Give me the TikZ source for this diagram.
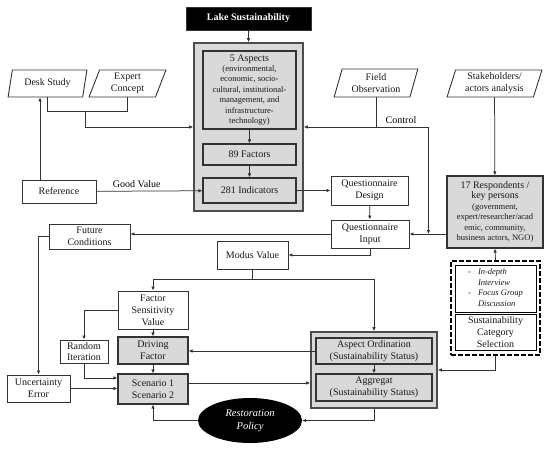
\documentclass[tikz,border=0pt]{standalone}
\usepackage{fontspec}
\setmainfont{Liberation Serif}
\usetikzlibrary{arrows.meta,shapes.geometric}

\begin{document}
\begin{tikzpicture}[x=1pt,y=-1pt,
    font=\fontsize{10}{11.8}\selectfont,
    size/.style 2 args={minimum width=#1,minimum height=#2},
    box/.style={draw=black!80,line width=0.9pt,fill=white,align=center,inner sep=0pt,text=black!90},
    grey/.style={box,fill=black!15,line width=1.1pt},
    data/.style={box,trapezium,trapezium left angle=73,trapezium right angle=107,trapezium stretches=true},
    small/.style={font=\fontsize{8.5}{10.4}\selectfont},
    arr/.style={draw=black!80,line width=0.75pt,-{Latex[length=4pt,width=3.5pt]}},
    line/.style={draw=black!80,line width=0.75pt}]
\useasboundingbox (0,0) rectangle (550,451);
% top part
\node[box,fill=black,text=white,font=\bfseries\fontsize{10}{12}\selectfont,size={125}{23}] (lake) at (248.5,18.5) {Lake Sustainability};
\node[grey,draw=black!70,line width=1.6pt,size={109}{168}] (cont) at (248.5,127) {};
\node[grey,size={93}{78},small] (aspects) at (249.5,90) {{\fontsize{10}{12}\selectfont 5 Aspects}\\(environmental,\\economic, socio-\\cultural, institutional-\\management, and\\infrastructure-\\technology)};
\node[grey,size={93}{21}] (factors) at (249.5,154.5) {89 Factors};
\node[grey,size={93}{25}] (indic) at (249.5,190.5) {281 Indicators};
\node[data,size={79}{27}] (desk) at (47.5,83.5) {Desk Study};
\node[data,size={77}{27}] (expert) at (127.5,83.5) {Expert\\Concept};
\node[data,size={84}{28}] (field) at (376,83) {Field\\Observation};
\node[data,size={95}{27}] (stake) at (494.5,83.5) {Stakeholders/\\actors analysis};
\node[box,size={74}{23}] (ref) at (59,191.5) {Reference};
\node[box,size={77}{29}] (qdesign) at (369.5,190.5) {Questionnaire\\Design};
\node[box,size={78}{28}] (qinput) at (370,234) {Questionnaire\\Input};
\node[grey,size={96}{72},small] (resp) at (495,212) {{\fontsize{10}{11}\selectfont 17 Respondents /}\\{\fontsize{10}{11}\selectfont key persons}\\(government,\\expert/researcher/acad\\emic, community,\\business actors, NGO)};
% bottom part
\node[box,size={81}{25}] (future) at (89.5,236.5) {Future\\Conditions};
\node[box,size={71}{28}] (modus) at (252.5,255) {Modus Value};
\node[box,size={70}{38}] (fsv) at (153,310) {Factor\\Sensitivity\\Value};
\node[grey,size={70}{27}] (driving) at (153,350.5) {Driving\\Factor};
\node[grey,size={70}{30}] (scen) at (153,389) {Scenario 1\\Scenario 2};
\node[box,size={48}{23}] (random) at (84,351.5) {Random\\Iteration};
\node[box,size={63}{27}] (uncert) at (38.5,388.5) {Uncertainty\\Error};
\node[grey,draw=black!70,line width=1.6pt,size={126}{76}] (ordcont) at (374,370) {};
\node[grey,size={116}{26}] (ord) at (374,351) {Aspect Ordination\\(Sustainability Status)};
\node[grey,size={116}{27}] (aggr) at (374,387.5) {Aggregat\\(Sustainability Status)};
\node[ellipse,fill=black,text=white,inner sep=0pt,size={104}{45},align=center,font=\itshape\fontsize{10.5}{12.5}\selectfont] (policy) at (250,420.5) {Restoration\\Policy};
\node[draw=black,line width=2.2pt,dash pattern=on 5pt off 2pt,size={89}{94}] (dashbox) at (495.5,308) {};
\node[box,draw=black,size={81}{47},align=left,small] (interview) at (495.5,288.5)
  {\begin{tabular}{@{}l@{\hspace{7pt}}l@{}}-&\textit{In-depth}\\&\textit{Interview}\\-&\textit{Focus Group}\\&\textit{Discussion}\end{tabular}};
\node[box,draw=black,size={81}{36}] (select) at (495.5,332) {Sustainability\\Category\\Selection};
% connectors
\coordinate (dj) at (85,111);
\coordinate (fj) at (375,127);
\coordinate (mj) at (252.5,279);
\draw[arr] (lake) -- (cont);
\draw[arr] (aspects) -- (factors);
\draw[arr] (factors) -- (indic);
\draw[line] (desk.south) -- ++(0,14) -| (expert.south);
\draw[arr] (dj) |- (cont.west |- 0,127);
\draw[arr] ([xshift=-19pt]ref.north) -- ([xshift=-19pt]ref.north |- desk.south);
\draw[arr] (ref) -- node[above,pos=0.38] (good) {Good Value} (indic);
\draw[arr] (indic) -- (qdesign);
\draw[arr] (qdesign) -- (qinput);
\draw[arr] (field.south) |- (cont.east |- fj);
\draw[arr] (fj) -| ([xshift=19pt]qinput.east);
\node (ctrl) at (401,120) {Control};
\draw[arr] (stake) -- (resp);
\draw[arr] (resp.west |- qinput.east) -- (qinput.east);
\draw[arr] (qinput.west) -- (future.east |- qinput.west);
\draw[arr] (qinput.south) |- (modus.east);
\draw[line] (modus.south) -- (mj);
\draw[arr] (mj) -| (fsv.north);
\draw[arr] (mj) -| (ordcont.north);
\draw[arr] (fsv.west) -| (random.north);
\draw[arr] (fsv) -- (driving);
\draw[arr] (driving) -- (scen);
\draw[arr] (random.south) |- ([yshift=11pt]scen.west);
\draw[arr] (uncert.east) -- (scen.west |- uncert.east);
\draw[arr] (future.west) -| (uncert.north);
\draw[arr] (ord.west) -- (driving.east |- ord.west);
\draw[arr] ([yshift=6pt]scen.east) -- (ordcont.west |- 0,383);
\draw[arr] (ord) -- (aggr);
\draw[arr] (ordcont.south) |- (policy.east);
\draw[arr] (policy.west) -| (scen.south);
\draw[arr] (dashbox.north) -- (resp.south);
\draw[arr] (dashbox.south) |- (ordcont.east);
\end{tikzpicture}
\end{document}
